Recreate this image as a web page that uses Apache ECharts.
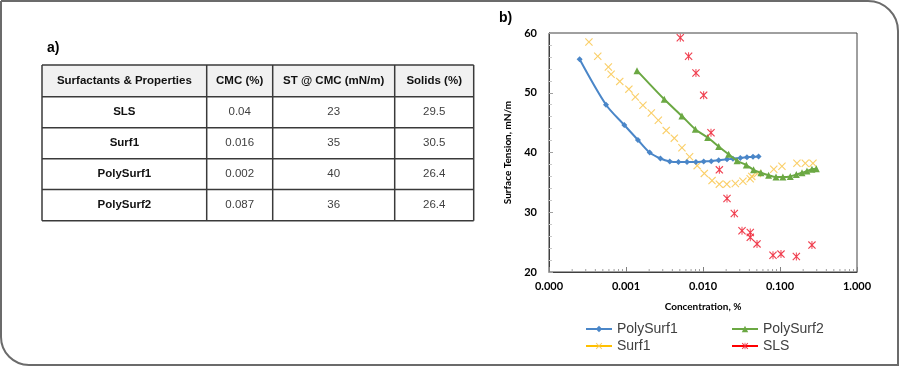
<!DOCTYPE html>
<html><head><meta charset="utf-8">
<script src="https://cdn.jsdelivr.net/npm/echarts@6/dist/echarts.min.js"></script>
<style>html,body{margin:0;padding:0;background:#fff}#c{width:900px;height:367px}</style>
</head><body><div id="c"></div>
<script>
// ---- table data ----
const tableHeaders = ['Surfactants & Properties', 'CMC (%)', 'ST @ CMC (mN/m)', 'Solids (%)'];
const tableNames = ['SLS', 'Surf1', 'PolySurf1', 'PolySurf2'];
const tableCMC = ['0.04', '0.016', '0.002', '0.087'];
const tableST = ['23', '35', '40', '36'];
const tableSolids = ['29.5', '30.5', '26.4', '26.4'];

// ---- chart data ----
const seriesNames = ['PolySurf1', 'Surf1', 'PolySurf2', 'SLS'];
const polySurf1X = [0.00025, 0.00055, 0.00095, 0.00143, 0.00203, 0.0028, 0.0037, 0.0048, 0.0062, 0.0081, 0.0102, 0.0128, 0.016, 0.0205, 0.0245, 0.0305, 0.0372, 0.0446, 0.0527];
const polySurf1Y = [55.6, 48.0, 44.6, 42.1, 40.0, 39.0, 38.5, 38.4, 38.4, 38.4, 38.5, 38.55, 38.7, 38.85, 38.95, 39.1, 39.2, 39.3, 39.35];
const surf1X = [0.00033, 0.00043, 0.00059, 0.00064, 0.00083, 0.00109, 0.00132, 0.00166, 0.00213, 0.00263, 0.00333, 0.00424, 0.00533, 0.0067, 0.0084, 0.0104, 0.0131, 0.0163, 0.0204, 0.0263, 0.033, 0.041, 0.043, 0.051, 0.083, 0.106, 0.166, 0.213, 0.268];
const surf1Y = [58.5, 56.1, 54.3, 53.1, 51.9, 50.6, 49.3, 47.9, 46.6, 45.4, 43.7, 42.4, 40.8, 39.3, 37.8, 36.5, 35.3, 34.7, 34.7, 34.8, 35.2, 35.6, 36.0, 36.5, 37.2, 37.7, 38.2, 38.2, 38.2];
const polySurf2X = [0.00139, 0.00314, 0.00533, 0.00794, 0.0115, 0.016, 0.0215, 0.0277, 0.0365, 0.0454, 0.0566, 0.0711, 0.0887, 0.109, 0.136, 0.163, 0.193, 0.224, 0.26, 0.296];
const polySurf2Y = [53.7, 48.9, 46.1, 43.9, 42.5, 41.0, 39.7, 38.6, 37.9, 37.1, 36.6, 36.2, 35.9, 35.9, 36.0, 36.3, 36.6, 36.9, 37.2, 37.3];
const slsX = [0.00507, 0.0065, 0.0081, 0.0102, 0.0127, 0.0163, 0.0205, 0.0255, 0.0321, 0.0411, 0.0411, 0.0503, 0.0811, 0.103, 0.163, 0.26];
const slsY = [59.2, 56.1, 53.3, 49.6, 43.3, 37.1, 32.3, 29.8, 26.9, 26.6, 25.8, 24.7, 22.8, 23.0, 22.6, 24.5];

const xMin = 0.0001, xMax = 1;
const yMin = 20, yMax = 60, yInterval = 10;
const xMinorTicks = [];
[0.0001, 0.001, 0.01, 0.1].forEach(d => { for (let m = 2; m <= 9; m++) xMinorTicks.push(d * m); });

const zip = (xs, ys) => xs.map((x, i) => [x, ys[i]]);

const colors = { PolySurf1: '#4A86C8', Surf1: '#F9C74F', PolySurf2: '#6BA843', SLS: '#EE2A3C' };
const xPath = 'path://M1,0L5,4L9,0L10,1L6,5L10,9L9,10L5,6L1,10L0,9L4,5L0,1Z';
const starPath = 'path://M1,0L5,4L9,0L10,1L6,5L10,9L9,10L5,6L1,10L0,9L4,5L0,1ZM4.4,0L5.6,0L5.6,10L4.4,10Z';

// ---- layout ----
const tblX = [42, 206.7, 272.7, 394.7, 473.7];
const tblY = [65, 96.7, 127.7, 158.7, 189.5, 220.7];

const graphics = [];
graphics.push({ type: 'rect', shape: { x: 1, y: 1, width: 897, height: 364, r: [0, 30, 0, 28] }, style: { fill: 'none', stroke: '#6b6b6b', lineWidth: 2 }, z: 0, silent: true });
graphics.push({ type: 'text', left: 47, top: 41, style: { text: 'a)', font: 'bold 14px "Liberation Sans"', fill: '#000' } });
graphics.push({ type: 'text', left: 499, top: 11, style: { text: 'b)', font: 'bold 14px "Liberation Sans"', fill: '#000' } });
graphics.push({ type: 'rect', shape: { x: tblX[0], y: tblY[0], width: tblX[4] - tblX[0], height: tblY[1] - tblY[0] }, style: { fill: '#F1F1F1' }, silent: true });
const rows = [tableHeaders].concat(tableNames.map((n, i) => [n, tableCMC[i], tableST[i], tableSolids[i]]));
rows.forEach((row, r) => {
  row.forEach((txt, c) => {
    const bold = r === 0 || c === 0;
    graphics.push({
      type: 'text',
      style: {
        text: txt,
        x: (tblX[c] + tblX[c + 1]) / 2,
        y: (tblY[r] + tblY[r + 1]) / 2,
        align: 'center', verticalAlign: 'middle',
        font: (bold ? 'bold ' : '') + '11.5px "Liberation Sans"',
        fill: bold ? '#111' : '#404040'
      }, silent: true
    });
  });
});
tblY.forEach(y => graphics.push({ type: 'line', shape: { x1: tblX[0], y1: y, x2: tblX[4], y2: y }, style: { stroke: '#3a3a3a', lineWidth: 1.5 }, silent: true }));
tblX.forEach(x => graphics.push({ type: 'line', shape: { x1: x, y1: tblY[0], x2: x, y2: tblY[5] }, style: { stroke: '#3a3a3a', lineWidth: 1.5 }, silent: true }));

const chart = echarts.init(document.getElementById('c'), null, { renderer: 'canvas' });
const labelFont = { fontFamily: 'Lato', fontWeight: 'bold', fontSize: 11, color: '#000' };

const legendText = { fontFamily: 'Liberation Sans', fontSize: 14, color: '#404040' };
chart.setOption({
  animation: false,
  graphic: graphics,
  grid: { left: 549, right: 43, top: 33, bottom: 95, show: true, borderColor: '#404040', borderWidth: 1, backgroundColor: 'transparent' },
  legend: [
    { data: [{ name: 'PolySurf1' }, { name: 'Surf1', lineStyle: { opacity: 1, width: 2, color: '#FFC000' } }],
      orient: 'vertical', left: 580, top: 317, itemGap: 3, itemWidth: 26, itemHeight: 8, textStyle: legendText },
    { data: [{ name: 'PolySurf2' }, { name: 'SLS', lineStyle: { opacity: 1, width: 2, color: '#FF0000' } }],
      orient: 'vertical', left: 726, top: 317, itemGap: 3, itemWidth: 26, itemHeight: 8, textStyle: legendText }
  ],
  xAxis: {
    type: 'log', logBase: 10, min: xMin, max: xMax,
    name: 'Concentration, %', nameLocation: 'middle', nameGap: 30,
    nameTextStyle: { fontFamily: 'Lato', fontWeight: 'bold', fontSize: 10, color: '#000' },
    axisLine: { show: true, lineStyle: { color: '#404040', width: 1 } },
    axisTick: { show: true, inside: true, length: 5, lineStyle: { color: '#808080' } },
    axisLabel: Object.assign({ margin: 9, formatter: v => Number(v).toFixed(3) }, labelFont),
    splitLine: { show: false }
  },
  yAxis: {
    type: 'value', min: yMin, max: yMax, interval: yInterval,
    name: 'Surface Tension, mN/m', nameLocation: 'middle', nameGap: 36, nameRotate: 90,
    nameTextStyle: { fontFamily: 'Lato', fontWeight: 'bold', fontSize: 10, color: '#000' },
    axisLine: { show: true, lineStyle: { color: '#404040', width: 1 } },
    axisTick: { show: true, inside: true, length: 4, lineStyle: { color: '#a0a0a0' } },
    minorTick: { show: true, splitNumber: 5, length: 3, lineStyle: { color: '#c8c8c8' } },
    axisLabel: Object.assign({ margin: 12 }, labelFont),
    splitLine: { show: false }
  },
  series: [
    {
      name: 'PolySurf1', type: 'line', data: zip(polySurf1X, polySurf1Y), smooth: 0.3,
      symbol: 'diamond', symbolSize: 6, showSymbol: true,
      lineStyle: { color: colors.PolySurf1, width: 2 }, itemStyle: { color: colors.PolySurf1 }, z: 3
    },
    {
      name: 'Surf1', type: 'line', data: zip(surf1X, surf1Y),
      symbol: xPath, symbolSize: 8,
      lineStyle: { opacity: 0, width: 0 }, itemStyle: { color: colors.Surf1, opacity: 0.85 }, z: 2
    },
    {
      name: 'PolySurf2', type: 'line', data: zip(polySurf2X, polySurf2Y), smooth: 0.3,
      symbol: 'triangle', symbolSize: 7,
      lineStyle: { color: colors.PolySurf2, width: 2 }, itemStyle: { color: colors.PolySurf2 }, z: 4
    },
    {
      name: 'SLS', type: 'line', data: zip(slsX, slsY),
      symbol: starPath, symbolSize: 8,
      lineStyle: { opacity: 0, width: 0 }, itemStyle: { color: colors.SLS, opacity: 0.9 }, z: 5
    },
    {
      name: 'xMinor', type: 'custom', silent: true, z: 1,
      data: xMinorTicks.map(v => [v, yMin]),
      renderItem: function (params, api) {
        const p = api.coord([api.value(0), api.value(1)]);
        return { type: 'line', shape: { x1: p[0], y1: p[1], x2: p[0], y2: p[1] - 3 }, style: { stroke: '#a0a0a0', lineWidth: 1 } };
      }
    }
  ]
});
</script>
</body></html>
